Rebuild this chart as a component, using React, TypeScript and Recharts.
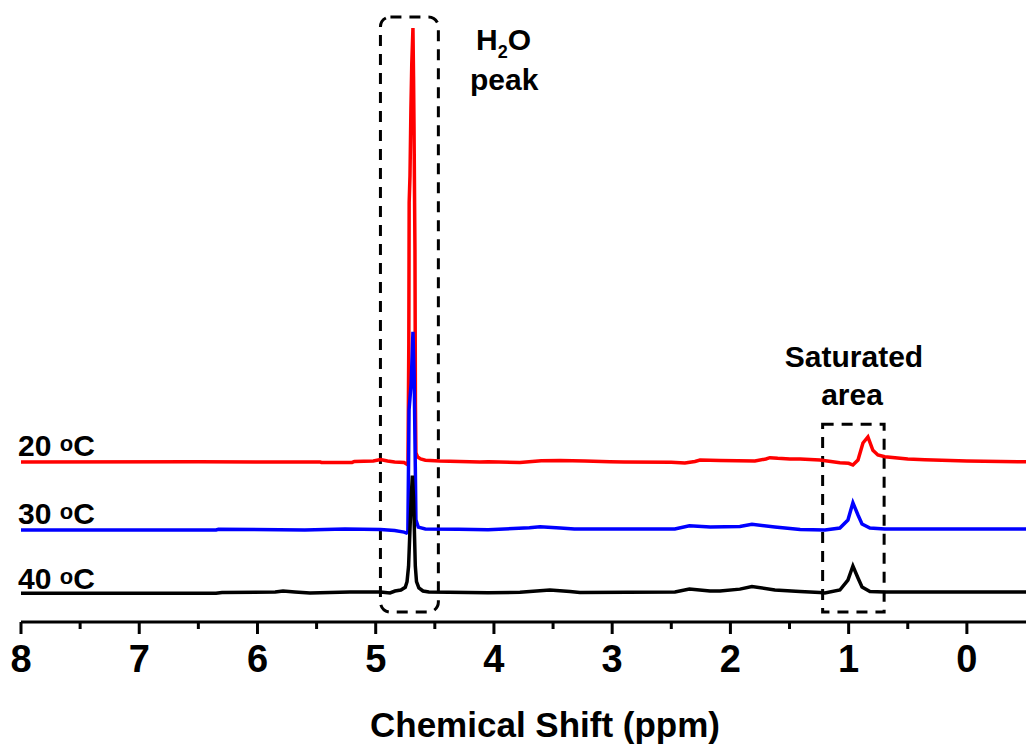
import React from "react";
import { LineChart, Line, XAxis, YAxis, ReferenceArea } from "recharts";

// chemical shift (ppm) and stacked intensity (a.u., offsets included)
const redPpm = [8.0, 6.5, 5.47, 5.46, 5.2, 5.18, 5.02, 4.96, 4.9, 4.84, 4.76, 4.74, 4.727, 4.72, 4.717, 4.71, 4.702, 4.695, 4.685, 4.68, 4.676, 4.668, 4.664, 4.66, 4.645, 4.62, 4.58, 4.46, 4.12, 4.05, 3.78, 3.6, 3.44, 3.23, 3.02, 2.9, 2.5, 2.385, 2.3, 2.257, 2.088, 1.793, 1.7, 1.666, 1.6, 1.497, 1.41, 1.243, 1.15, 1.074, 1.0, 0.964, 0.921, 0.879, 0.837, 0.795, 0.753, 0.694, 0.5, 0.355, 0.0, -0.5];
const redInt = [25.81, 25.84, 25.81, 25.73, 25.73, 25.89, 25.97, 26.21, 25.97, 25.81, 25.73, 25.5, 25.8, 45, 67.7, 72, 83, 90, 95.8, 88, 80, 60, 35, 27.3, 26.6, 26.3, 26.1, 25.97, 25.81, 25.84, 25.73, 26.0, 26.05, 25.97, 25.84, 25.81, 25.75, 25.65, 25.9, 26.13, 26.05, 25.97, 26.3, 26.5, 26.4, 26.29, 26.29, 26.13, 25.9, 25.7, 25.6, 25.32, 26.13, 28.87, 29.84, 27.7, 26.94, 26.67, 26.3, 26.18, 25.97, 25.84];

const bluePpm = [8.0, 6.35, 6.33, 5.6, 5.26, 4.96, 4.84, 4.76, 4.74, 4.728, 4.72, 4.718, 4.7, 4.69, 4.685, 4.675, 4.665, 4.66, 4.64, 4.58, 4.3, 4.05, 3.7, 3.61, 3.44, 3.32, 2.47, 2.347, 2.17, 1.92, 1.818, 1.624, 1.41, 1.2, 1.074, 1.006, 0.964, 0.921, 0.887, 0.82, 0.695, -0.5];
const blueInt = [14.84, 14.84, 14.95, 14.84, 15.0, 14.92, 14.76, 14.5, 14.35, 14.6, 30, 34.2, 38.5, 44, 46.8, 40, 25, 16.5, 15.3, 15.0, 14.95, 14.89, 15.2, 15.37, 15.16, 15.0, 15.0, 15.53, 15.32, 15.4, 15.76, 15.32, 14.92, 14.84, 15.16, 16.45, 19.24, 17.26, 15.81, 15.16, 15.0, 15.0];

const blackPpm = [8.0, 6.35, 6.3, 5.85, 5.784, 5.683, 5.556, 5.218, 4.96, 4.879, 4.837, 4.787, 4.75, 4.735, 4.722, 4.7, 4.69, 4.68, 4.665, 4.655, 4.635, 4.6, 4.55, 4.05, 3.78, 3.696, 3.527, 3.357, 3.273, 2.469, 2.347, 2.173, 2.088, 1.92, 1.818, 1.624, 1.412, 1.243, 1.201, 1.074, 1.006, 0.964, 0.921, 0.887, 0.82, 0.695, -0.5];
const blackInt = [4.62, 4.62, 4.76, 4.84, 5.0, 4.84, 4.68, 4.84, 4.84, 4.68, 5.0, 5.16, 5.6, 6.5, 9, 20, 23.6, 20, 9, 6.5, 5.5, 5.0, 4.84, 4.73, 4.8, 4.92, 5.16, 4.92, 4.76, 4.84, 5.32, 5.0, 5.0, 5.3, 5.73, 5.16, 4.92, 4.76, 4.68, 5.16, 6.77, 9.03, 7.1, 5.65, 4.92, 4.84, 4.84];

const xTicks = [8, 7.5, 7, 6.5, 6, 5.5, 5, 4.5, 4, 3.5, 3, 2.5, 2, 1.5, 1, 0.5, 0];

// dashed annotation boxes [x1, x2, y1, y2]
const waterBox = [4.96, 4.47, 1.6, 97.6];
const satBox = [1.22, 0.7, 1.6, 31.9];

const FONT = "'Liberation Sans', Arial, Helvetica, sans-serif";

const toRows = (ppm: number[], vals: number[]) => ppm.map((p, i) => ({ ppm: p, v: vals[i] }));
const redData = toRows(redPpm, redInt);
const blueData = toRows(bluePpm, blueInt);
const blackData = toRows(blackPpm, blackInt);

function Tick(props: any) {
  const { x, y, payload } = props;
  const major = Number.isInteger(payload.value);
  return (
    <g>
      <line x1={x} x2={x} y1={y} y2={y + (major ? 12 : 7)} stroke="#000" strokeWidth={3} />
      {major && (
        <text x={x} y={y + 50} textAnchor="middle" fontSize={38} fontWeight="bold" fontFamily={FONT} fill="#000">
          {payload.value}
        </text>
      )}
    </g>
  );
}

const boxShape = (rx: number) => (p: any) => (
  <rect x={p.x} y={p.y} width={p.width} height={p.height} rx={rx} fill="none" stroke="#000" strokeWidth={3} strokeDasharray="11 8" />
);

function TempLabel({ y, t }: { y: number; t: string }) {
  return (
    <text x={18} y={y} fontSize={30} fontFamily={FONT} fontWeight="bold" fill="#000">
      {t + " "}
      <tspan fontSize={22} dy={-5}>o</tspan>
      <tspan dy={5}>C</tspan>
    </text>
  );
}

export default function App() {
  const lbl = { fontFamily: FONT, fontWeight: "bold" as const, fill: "#000" };
  return (
    <div style={{ position: "absolute", left: 0, top: 0, width: 1028, height: 747, background: "#fff" }}>
      <LineChart width={1028} height={747} margin={{ top: 2, right: 2, left: 21, bottom: 65 }}>
        <XAxis
          type="number"
          dataKey="ppm"
          domain={[-0.5, 8]}
          reversed
          allowDataOverflow
          ticks={xTicks}
          interval={0}
          tick={<Tick />}
          tickLine={false}
          tickSize={0}
          tickMargin={0}
          axisLine={{ stroke: "#000", strokeWidth: 3 }}
          height={60}
        />
        <YAxis hide type="number" domain={[0, 100]} allowDataOverflow />
        <ReferenceArea x1={waterBox[0]} x2={waterBox[1]} y1={waterBox[2]} y2={waterBox[3]} shape={boxShape(10)} />
        <ReferenceArea x1={satBox[0]} x2={satBox[1]} y1={satBox[2]} y2={satBox[3]} shape={boxShape(0)} />
        <Line data={redData} dataKey="v" type="linear" stroke="#ff0000" strokeWidth={3.5} dot={false} isAnimationActive={false} />
        <Line data={blueData} dataKey="v" type="linear" stroke="#0000ff" strokeWidth={3.5} dot={false} isAnimationActive={false} />
        <Line data={blackData} dataKey="v" type="linear" stroke="#000000" strokeWidth={3.5} dot={false} isAnimationActive={false} />
      </LineChart>
      <svg width={1028} height={747} style={{ position: "absolute", left: 0, top: 0, pointerEvents: "none" }}>
        <TempLabel y={456} t="20" />
        <TempLabel y={524} t="30" />
        <TempLabel y={589} t="40" />
        <text x={476} y={50} fontSize={30} {...lbl}>
          H<tspan fontSize={18} dy={8}>2</tspan><tspan dy={-8}>O</tspan>
        </text>
        <text x={470} y={90} fontSize={30} {...lbl}>peak</text>
        <text x={854} y={367} fontSize={30} textAnchor="middle" {...lbl}>Saturated</text>
        <text x={852} y={405} fontSize={30} textAnchor="middle" {...lbl}>area</text>
        <text x={545} y={737} fontSize={35} textAnchor="middle" {...lbl}>Chemical Shift (ppm)</text>
      </svg>
    </div>
  );
}
